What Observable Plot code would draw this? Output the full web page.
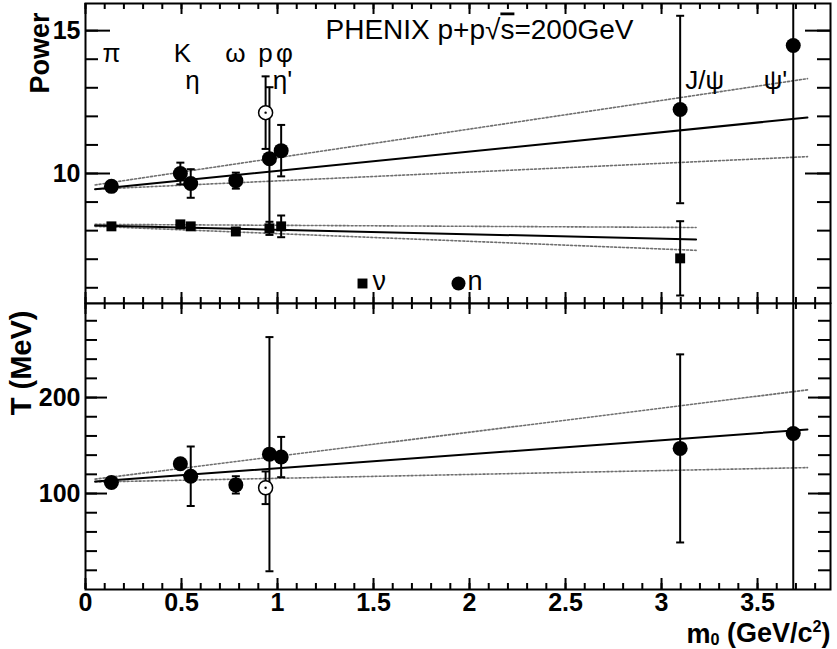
<!DOCTYPE html>
<html><head><meta charset="utf-8">
<script src="https://cdn.jsdelivr.net/npm/d3@7"></script>
<script src="https://cdn.jsdelivr.net/npm/@observablehq/plot@0.6"></script>
<style>
body{margin:0;background:#fff}
#chart svg{display:block}
#chart svg.bottomPanel{margin-top:-2px}
</style>
</head><body><div id="chart"></div>
<script>
// ---- data ----
const particles = ["π", "K", "η", "ω", "p", "η′", "φ", "J/ψ", "ψ′"];
const mass      = [0.135, 0.494, 0.548, 0.783, 0.938, 0.958, 1.019, 3.097, 3.686];
const openMark  = [false, false, false, false, true, false, false, false, false];
// power n (circles)
const powerN    = [9.55, 10.0, 9.65, 9.75, 12.13, 10.52, 10.8, 12.24, 14.48];
const powerNErr = [null, 0.38, 0.5, 0.28, 1.27, 2.5, 0.9, 3.28, 12];
// power nu (squares)
const powerNu    = [8.15, 8.22, 8.15, 7.97, null, 8.08, 8.15, 7.03, null];
const powerNuErr = [null, null, null, null, null, 0.23, 0.38, 1.3, null];
// temperature T (MeV)
const tempT    = [111.5, 131, 118, 109, 106, 141, 138, 147, 162.5];
const tempTErr = [null, null, 31, 9, 17, 122, 21, 98, 400];
// fit lines (end points)
const fitX   = [0.05, 3.76];
const nFit   = [9.45, 11.96];
const nFitHi = [9.6, 13.32];
const nFitLo = [9.45, 10.59];
const nuFitX   = [0.05, 3.18];
const nuFit    = [8.18, 7.69];
const nuFitHi  = [8.22, 8.11];
const nuFitLo  = [8.15, 7.31];
const tFit   = [112.5, 166.7];
const tFitHi = [115, 208];
const tFitLo = [112, 127];
// tick labels
const xTickVals = [0, 0.5, 1, 1.5, 2, 2.5, 3, 3.5];
const xTickText = ["0", "0.5", "1", "1.5", "2", "2.5", "3", "3.5"];
const powerTickVals = [10, 15];
const tTickVals = [100, 200];
// particle label annotations
const labelRow1 = ["π", "K", "ω", "p", "φ"];
const labelRow1X = [0.135, 0.505, 0.781, 0.9375, 1.036];
const labelRow2 = ["η", "η'", "J/ψ", "ψ'"];
const labelRow2X = [0.557, 1.026, 3.224, 3.594];

// ---- layout ----
const W = 837, ML = 85, MR = 7, FW = W - ML - MR;
const font = "'Liberation Sans', Arial, Helvetica, sans-serif";
const xDomain = [0, 3.88];

const rows = particles.map((name, i) => ({
  name, m: mass[i], open: openMark[i],
  n: powerN[i], nErr: powerNErr[i],
  nu: powerNu[i], nuErr: powerNuErr[i],
  t: tempT[i], tErr: tempTErr[i]
}));

const capSymbol = {draw(ctx, size) { const r = Math.sqrt(size / Math.PI); ctx.moveTo(-r, 0); ctx.lineTo(r, 0); }};

function errMarks(data, v, e) {
  const d = data.filter(r => r[v] != null && r[e] != null);
  const caps = d.flatMap(r => [{m: r.m, y: r[v] + r[e]}, {m: r.m, y: r[v] - r[e]}]);
  return [
    Plot.ruleX(d, {x: "m", y1: r => r[v] - r[e], y2: r => r[v] + r[e], stroke: "black", strokeWidth: 2, clip: true}),
    Plot.dot(caps, {x: "m", y: "y", symbol: capSymbol, r: 4, stroke: "black", strokeWidth: 2, clip: true})
  ];
}

function line(xs, ys, dotted) {
  const d = xs.map((x, i) => ({x, y: ys[i]}));
  return Plot.line(d, dotted
    ? {x: "x", y: "y", stroke: "#6f6f6f", strokeWidth: 1.6, strokeDasharray: "2 2"}
    : {x: "x", y: "y", stroke: "black", strokeWidth: 2});
}

function tickMarks(H, yMinor, yMajor, yMinLen, yMajLen) {
  const xMinor = d3.range(0, 39).map(i => i / 10);
  const xMajor = xTickVals;
  const s = {stroke: "black", strokeWidth: 2};
  return [
    Plot.tickX(xMinor, {x: d => d, insetBottom: H - 6, ...s}),
    Plot.tickX(xMajor, {x: d => d, insetBottom: H - 11, ...s}),
    Plot.tickX(xMinor, {x: d => d, insetTop: H - 6, ...s}),
    Plot.tickX(xMajor, {x: d => d, insetTop: H - 11, ...s}),
    Plot.tickY(yMinor, {y: d => d, insetRight: FW - yMinLen, ...s}),
    Plot.tickY(yMajor, {y: d => d, insetRight: FW - yMajLen, ...s}),
    Plot.tickY(yMinor, {y: d => d, insetLeft: FW - yMinLen, ...s}),
    Plot.tickY(yMajor, {y: d => d, insetLeft: FW - yMajLen, ...s})
  ];
}

function markerMarks(data, v) {
  const d = data.filter(r => r[v] != null);
  return [
    Plot.dot(d.filter(r => !r.open), {x: "m", y: v, r: 7.5, fill: "black"}),
    Plot.dot(d.filter(r => r.open), {x: "m", y: v, r: 7, fill: "white", stroke: "black", strokeWidth: 1.5}),
    Plot.dot(d.filter(r => r.open), {x: "m", y: v, r: 1.2, fill: "black"})
  ];
}

// ---- top panel: power ----
const topH = 304, topMT = 3, topMB = 1;
const topPanel = Plot.plot({
  width: W, height: topH, marginTop: topMT, marginBottom: topMB, marginLeft: ML, marginRight: MR,
  style: {fontFamily: font, background: "white", color: "black"},
  x: {domain: xDomain, axis: null},
  y: {domain: [5.45, 15.95], axis: null},
  marks: [
    line(fitX, nFitHi, true), line(fitX, nFitLo, true), line(fitX, nFit, false),
    line(nuFitX, nuFitHi, true), line(nuFitX, nuFitLo, true), line(nuFitX, nuFit, false),
    ...errMarks(rows, "n", "nErr"),
    ...errMarks(rows, "nu", "nuErr"),
    ...markerMarks(rows, "n"),
    Plot.dot(rows.filter(r => r.nu != null), {x: "m", y: "nu", symbol: "square", r: 5.6, fill: "black"}),
    ...tickMarks(topH - topMT - topMB, d3.range(6, 16), powerTickVals, 13, 25),
    Plot.frame({stroke: "black", strokeWidth: 2}),
    Plot.text(powerTickVals, {y: d => d, text: d => String(d), frameAnchor: "left", textAnchor: "end", dx: -5, fontSize: 25, fontWeight: "bold"}),
    Plot.text(["Power"], {text: d => d, frameAnchor: "top-left", rotate: -90, textAnchor: "end", lineAnchor: "bottom", dx: -37, dy: 9, fontSize: 27, fontWeight: "bold"}),
    Plot.text(["PHENIX p+p√s=200GeV"], {text: d => d, frameAnchor: "top-left", textAnchor: "start", lineAnchor: "middle", dx: 240, dy: 27, fontSize: 28}),
    Plot.text(labelRow1, {x: (d, i) => labelRow1X[i], text: d => d, frameAnchor: "top", lineAnchor: "middle", dy: 50, fontSize: 26}),
    Plot.text(labelRow2, {x: (d, i) => labelRow2X[i], text: d => d, frameAnchor: "top", lineAnchor: "middle", dy: 77, fontSize: 26}),
    Plot.dot(["ν"], {frameAnchor: "top-left", dx: 277, dy: 280, symbol: "square", r: 5.6, fill: "black"}),
    Plot.text(["ν"], {text: d => d, frameAnchor: "top-left", textAnchor: "start", lineAnchor: "middle", dx: 287, dy: 278, fontSize: 27}),
    Plot.dot(["n"], {frameAnchor: "top-left", dx: 373, dy: 280, r: 7, fill: "black"}),
    Plot.text(["n"], {text: d => d, frameAnchor: "top-left", textAnchor: "start", lineAnchor: "middle", dx: 382, dy: 278, fontSize: 27})
  ]
});

// ---- bottom panel: temperature ----
const botH = 347, botMT = 1, botMB = 60;
const bottomPanel = Plot.plot({
  width: W, height: botH, marginTop: botMT, marginBottom: botMB, marginLeft: ML, marginRight: MR,
  style: {fontFamily: font, background: "white", color: "black"},
  x: {domain: xDomain, axis: null},
  y: {domain: [0, 298], axis: null},
  marks: [
    line(fitX, tFitHi, true), line(fitX, tFitLo, true), line(fitX, tFit, false),
    ...errMarks(rows, "t", "tErr"),
    ...markerMarks(rows, "t"),
    ...tickMarks(botH - botMT - botMB, d3.range(20, 300, 20), tTickVals, 12, 22),
    Plot.frame({stroke: "black", strokeWidth: 2}),
    Plot.text(tTickVals, {y: d => d, text: d => String(d), frameAnchor: "left", textAnchor: "end", dx: -5, fontSize: 25, fontWeight: "bold"}),
    Plot.text(xTickVals, {x: d => d, text: (d, i) => xTickText[i], frameAnchor: "bottom", lineAnchor: "middle", dy: 13, fontSize: 25, fontWeight: "bold"}),
    Plot.text(["T (MeV)"], {text: d => d, frameAnchor: "top-left", rotate: -90, textAnchor: "end", lineAnchor: "bottom", dx: -55, dy: 7, fontSize: 29, fontWeight: "bold"}),
    Plot.text(["m0 (GeV/c2)"], {text: d => d, frameAnchor: "bottom-right", textAnchor: "end", lineAnchor: "bottom", dy: 53, fontSize: 27, fontWeight: "bold"})
  ]
});
bottomPanel.classList.add("bottomPanel");

// rich text: subscript / superscript / overline via tspans
function richText(svg, plain, parts) {
  svg.querySelectorAll("text").forEach(t => {
    if (t.textContent === plain) {
      t.textContent = "";
      parts.forEach(([s, opt]) => {
        const ts = document.createElementNS("http://www.w3.org/2000/svg", "tspan");
        ts.textContent = s;
        if (opt === "sub") { ts.setAttribute("font-size", "0.6em"); ts.setAttribute("dy", "0.18em"); }
        if (opt === "sup") { ts.setAttribute("font-size", "0.6em"); ts.setAttribute("dy", "-0.62em"); }
        if (opt === "base-after-sub") { ts.setAttribute("dy", "-0.11em"); }
        if (opt === "base-after-sup") { ts.setAttribute("dy", "0.37em"); }
        if (opt === "over") { ts.setAttribute("text-decoration", "overline"); ts.style.textDecoration = "overline"; }
        t.appendChild(ts);
      });
    }
  });
}
richText(bottomPanel, "m0 (GeV/c2)", [["m"], ["0", "sub"], [" (GeV/c", "base-after-sub"], ["2", "sup"], [")", "base-after-sup"]]);
richText(topPanel, "PHENIX p+p√s=200GeV", [["PHENIX p+p√"], ["s", "over"], ["=200GeV"]]);

const chart = document.getElementById("chart");
chart.append(topPanel, bottomPanel);
</script>
</body></html>
